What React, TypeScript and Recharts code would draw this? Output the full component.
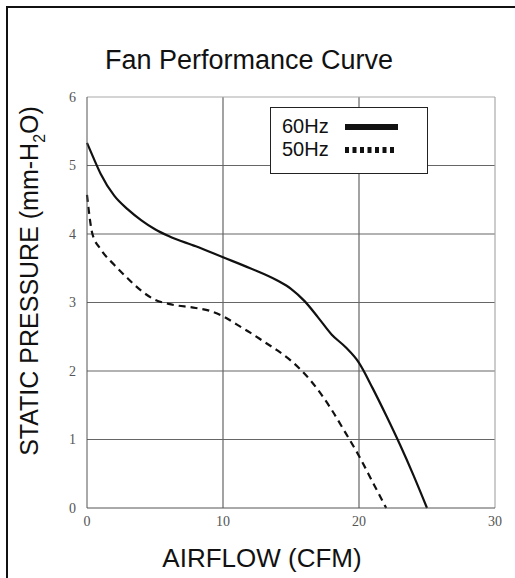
import * as React from 'react'
import { LineChart, Line, XAxis, YAxis, CartesianGrid, ReferenceLine, Label } from 'recharts'

// airflow (CFM) vs static pressure (mm-H2O)
const airflow60 = [0, 0.5, 1, 2, 3, 4, 5, 6, 8, 10, 12, 14, 15, 16, 17, 18, 19, 20, 21, 22, 23, 24, 25]
const pressure60 = [5.33, 5.1, 4.88, 4.56, 4.36, 4.2, 4.07, 3.97, 3.82, 3.66, 3.5, 3.32, 3.2, 3.02, 2.78, 2.53, 2.35, 2.12, 1.75, 1.35, 0.93, 0.48, 0]

const airflow50 = [0, 0.4, 1, 2, 3, 4, 5, 6, 8, 9, 10, 11, 12, 13, 14, 15, 16, 17, 18, 19, 20, 21, 22]
const pressure50 = [4.57, 4.0, 3.78, 3.55, 3.35, 3.17, 3.04, 2.98, 2.92, 2.88, 2.8, 2.68, 2.56, 2.43, 2.3, 2.15, 1.96, 1.72, 1.43, 1.1, 0.76, 0.38, 0]

const xTicks = [0, 10, 20, 30]
const yTicks = [0, 1, 2, 3, 4, 5, 6]

const series60 = airflow60.map((x, i) => ({ x, y: pressure60[i] }))
const series50 = airflow50.map((x, i) => ({ x, y: pressure50[i] }))

const SANS = '"Liberation Sans", Arial, sans-serif'
const SERIF = '"Liberation Serif", "Times New Roman", serif'

const legendBox = (
  <div
    style={{
      position: 'absolute',
      left: 270,
      top: 107,
      width: 158,
      height: 67,
      border: '1.5px solid #222',
      background: '#fff',
      fontFamily: SANS,
      fontSize: 20,
      color: '#111',
      boxSizing: 'border-box',
      paddingLeft: 11,
      paddingTop: 7,
      lineHeight: '23px',
    }}
  >
    <div style={{ display: 'flex', alignItems: 'center' }}>
      <span style={{ width: 63 }}>60Hz</span>
      <svg width={54} height={10}>
        <line x1={0} y1={5} x2={53} y2={5} stroke="#111" strokeWidth={6} />
      </svg>
    </div>
    <div style={{ display: 'flex', alignItems: 'center' }}>
      <span style={{ width: 63 }}>50Hz</span>
      <svg width={54} height={10}>
        <line x1={0} y1={5} x2={52} y2={5} stroke="#111" strokeWidth={6} strokeDasharray="4 3.5" />
      </svg>
    </div>
  </div>
)

const yLabel = () => (
  <text x={38} y={281} transform="rotate(-90 38 281)" textAnchor="middle" fontFamily={SANS} fontSize={25} fill="#111">
    STATIC PRESSURE (mm-H<tspan fontSize={16} dy={7}>2</tspan>
    <tspan dy={-7}>O)</tspan>
  </text>
)

const xLabel = () => (
  <text x={262} y={567} textAnchor="middle" fontFamily={SANS} fontSize={26} fill="#111">
    AIRFLOW (CFM)
  </text>
)

export default function App() {
  return (
    <div style={{ position: 'absolute', left: 0, top: 0, width: 515, height: 578, background: '#fff', overflow: 'hidden' }}>
      <div
        style={{
          position: 'absolute',
          left: 6,
          top: 6,
          width: 520,
          height: 590,
          borderTop: '2px solid #111',
          borderLeft: '2px solid #111',
        }}
      />
      <div
        style={{
          position: 'absolute',
          left: 0,
          top: 45,
          width: 498,
          textAlign: 'center',
          fontFamily: SANS,
          fontSize: 27,
          color: '#111',
        }}
      >
        Fan Performance Curve
      </div>
      <div style={{ position: 'absolute', left: 0, top: 0 }}>
        <LineChart width={515} height={578} margin={{ top: 97, right: 20, left: 0, bottom: 0 }}>
          <CartesianGrid
            stroke="#666"
            strokeWidth={1.2}
            horizontalValues={[1, 2, 3, 4, 5]}
            verticalValues={[10, 20]}
          />
          <XAxis
            type="number"
            dataKey="x"
            domain={[0, 30]}
            ticks={xTicks}
            height={70}
            tickLine={false}
            tickSize={0}
            tickMargin={8}
            stroke="#555"
            tick={{ fill: '#555', fontFamily: SERIF, fontSize: 14 }}
          >
            <Label content={xLabel} />
          </XAxis>
          <YAxis
            type="number"
            dataKey="y"
            domain={[0, 6]}
            ticks={yTicks}
            width={87}
            tickLine={false}
            tickSize={0}
            tickMargin={11}
            stroke="#555"
            tick={{ fill: '#555', fontFamily: SERIF, fontSize: 14 }}
          >
            <Label content={yLabel} />
          </YAxis>
          <ReferenceLine y={6} stroke="#aaa" strokeWidth={1.2} />
          <ReferenceLine x={30} stroke="#aaa" strokeWidth={1.2} />
          <Line
            data={series60}
            dataKey="y"
            type="monotone"
            stroke="#111"
            strokeWidth={2.2}
            dot={false}
            isAnimationActive={false}
          />
          <Line
            data={series50}
            dataKey="y"
            type="monotone"
            stroke="#111"
            strokeWidth={2.2}
            strokeDasharray="7 5"
            dot={false}
            isAnimationActive={false}
          />
        </LineChart>
      </div>
      {legendBox}
    </div>
  )
}
